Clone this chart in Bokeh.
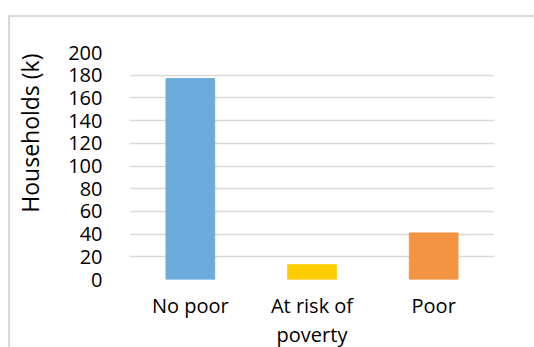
import math
from bokeh.plotting import figure
from bokeh.models import ColumnDataSource, FixedTicker
from bokeh.embed import file_html
from bokeh.resources import INLINE

categories = ["No poor", "At risk of\npoverty", "Poor"]
households = [177, 13, 41]
colors = ["#6CACDC", "#FFCC00", "#F39443"]
y_ticks = [0, 20, 40, 60, 80, 100, 120, 140, 160, 180, 200]
y_label = "Households (k)"

FONT = "Open Sans"

src = ColumnDataSource(dict(cat=categories, val=households, color=colors))

p = figure(
    x_range=categories, y_range=(0, 200),
    frame_width=365, frame_height=227,
    output_backend="svg", toolbar_location=None,
    min_border_left=119, min_border_right=42,
    min_border_top=35, min_border_bottom=10,
    margin=(15, 0, 0, 8),
    styles={"border-top": "2px solid #d9d9d9", "border-left": "2px solid #d9d9d9"},
)
p.vbar(x="cat", top="val", width=0.4, color="color", source=src)

p.outline_line_color = None
p.xgrid.grid_line_color = None
p.ygrid.grid_line_color = "#d9d9d9"
p.ygrid.grid_line_width = 1.5
p.yaxis.ticker = FixedTicker(ticks=y_ticks)

for ax in (p.xaxis, p.yaxis):
    ax.axis_line_color = None
    ax.major_tick_line_color = None
    ax.minor_tick_line_color = None
    ax.major_label_text_font = FONT
    ax.major_label_text_font_size = "20px"
    ax.major_label_text_color = "#000000"
p.yaxis.major_label_standoff = 21
p.xaxis.major_label_standoff = 6
p.xaxis.major_label_text_line_height = 1.1

# leading no-break spaces lift the centred title toward the top, as in the reference
p.yaxis.axis_label = "\u00a0" * 11 + y_label
p.yaxis.axis_label_standoff = 19
p.yaxis.axis_label_text_font = FONT
p.yaxis.axis_label_text_font_size = "23px"
p.yaxis.axis_label_text_font_style = "normal"
p.yaxis.axis_label_text_color = "#000000"

open("out.html", "w").write(file_html(p, INLINE))
